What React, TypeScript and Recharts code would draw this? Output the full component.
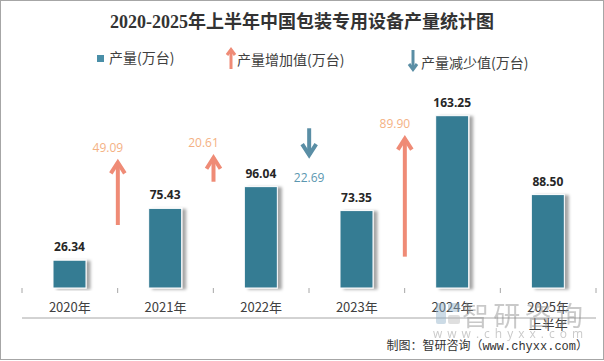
import React from 'react';
import { ComposedChart, Bar, XAxis, YAxis, LabelList } from 'recharts';

const years = ['2020年', '2021年', '2022年', '2023年', '2024年', '2025年上半年'];
const output = [26.34, 75.43, 96.04, 73.35, 163.25, 88.5];
const change = [null, 49.09, 20.61, -22.69, 89.9, null];
// where each arrow starts, read on the hidden second axis
const arrowStart = [null, 46.4, 78.3, 117.7, 23.1, null];

const W = 604;
const H = 361;
const X_AXIS_H = 40;
const margin = { top: 98, right: 8, bottom: 33, left: 22 };
const BAND = (W - margin.left - margin.right) / years.length;
const AXIS_Y = H - margin.bottom - X_AXIS_H;

const BAR = '#367b93';
const UP = '#ef8b76';
const UP_TEXT = '#f4b183';
const DOWN = '#5a8ea5';
const DOWN_TEXT = '#5b97b0';
const AXIS = '#a6a6a6';
const CJK = '"Noto Sans CJK SC", sans-serif';
const NUM = '"Open Sans", "Noto Sans CJK SC", sans-serif';

const data = years.map((year, i) => {
  const c = change[i];
  const s = arrowStart[i];
  return {
    year,
    output: output[i],
    change: c,
    arrow: c == null || s == null ? null : [Math.min(s, s + c), Math.max(s, s + c)],
  };
});

const BarShape = (p: any) => {
  const { x, y, width, height } = p;
  if (!height) return <g />;
  return (
    <rect x={x} y={y} width={width} height={height} fill={BAR} stroke="#fff" strokeWidth={1} filter="url(#barShadow)" />
  );
};

// arrows sit on the boundary between two years
const ArrowShape = (p: any) => {
  const { x, y, width, height, payload } = p;
  const c = payload?.change;
  if (c == null || !height) return <g />;
  const cx = x + width / 2 - BAND / 2;
  const top = y;
  const bottom = y + height;
  const hw = 7;
  const hh = 12;
  if (c > 0) {
    return (
      <g>
        <line x1={cx} x2={cx} y1={bottom} y2={top + 4} stroke={UP} strokeWidth={4} />
        <polyline
          points={`${cx - hw},${top + hh + 3} ${cx},${top + 4} ${cx + hw},${top + hh + 3}`}
          fill="none" stroke={UP} strokeWidth={4}
        />
        <text x={cx - 10} y={top - 11} textAnchor="middle" dominantBaseline="central" fill={UP_TEXT} fontSize={12} fontFamily={NUM}>
          {c.toFixed(2)}
        </text>
      </g>
    );
  }
  return (
    <g>
      <line x1={cx} x2={cx} y1={top} y2={bottom - 4} stroke={DOWN} strokeWidth={4} />
      <polyline
        points={`${cx - hw},${bottom - hh - 3} ${cx},${bottom - 4} ${cx + hw},${bottom - hh - 3}`}
        fill="none" stroke={DOWN} strokeWidth={4}
      />
      <text x={cx} y={bottom + 18} textAnchor="middle" dominantBaseline="central" fill={DOWN_TEXT} fontSize={12} fontFamily={NUM}>
        {Math.abs(c).toFixed(2)}
      </text>
    </g>
  );
};

const YearTick = (p: any) => {
  const { x, payload, index } = p;
  const y = AXIS_Y;
  const label: string = payload.value;
  const lines = label.length > 5 ? [label.slice(0, 5), label.slice(5)] : [label];
  return (
    <g>
      <line x1={x - BAND / 2} x2={x - BAND / 2} y1={y} y2={y + 5} stroke={AXIS} />
      {index === years.length - 1 && <line x1={x + BAND / 2} x2={x + BAND / 2} y1={y} y2={y + 5} stroke={AXIS} />}
      {lines.map((t, k) => (
        <text key={k} x={x} y={y + 18 + k * 17} textAnchor="middle" dominantBaseline="central" fill="#404040" fontSize={13} fontFamily={CJK}>
          {t}
        </text>
      ))}
    </g>
  );
};

function Overlay() {
  return (
    <svg width={W} height={H} style={{ position: 'absolute', left: 0, top: 0, pointerEvents: 'none' }}>
      <rect x={0.5} y={0.5} width={W - 1} height={H - 2} fill="none" stroke={AXIS} />
      <text x={302} y={22} textAnchor="middle" dominantBaseline="central" fontSize={18} fontWeight="bold" fill="#333" fontFamily='"Liberation Serif", "Noto Sans CJK SC", serif'>
        2020-2025年上半年中国包装专用设备产量统计图
      </text>

      {/* legend */}
      <rect x={97} y={55} width={7} height={7} fill="#4a8fa8" />
      <text x={109} y={57} dominantBaseline="central" fontSize={14} fill="#404040" fontFamily={CJK}>产量(万台)</text>
      <line x1={231} x2={231} y1={69} y2={51} stroke={UP} strokeWidth={3} />
      <polyline points="227,55 231,49.5 235,55" fill="none" stroke={UP} strokeWidth={3} />
      <text x={237} y={59} dominantBaseline="central" fontSize={14} fill="#404040" fontFamily={CJK}>产量增加值(万台)</text>
      <line x1={413} x2={413} y1={50} y2={68} stroke={DOWN} strokeWidth={3} />
      <polyline points="409,64 413,69.5 417,64" fill="none" stroke={DOWN} strokeWidth={3} />
      <text x={421} y={62} dominantBaseline="central" fontSize={14} fill="#404040" fontFamily={CJK}>产量减少值(万台)</text>

      {/* watermark */}
      <g opacity={0.45}>
        <rect x={436} y={303} width={10} height={21} rx={2} fill="#8fb0c8" />
        <rect x={448} y={303} width={12} height={9} rx={2} fill="#8fb0c8" />
        <rect x={448} y={315} width={12} height={9} rx={2} fill="#b9b9b9" />
        <text x={462} y={314} dominantBaseline="central" fontSize={27} fill="#8a8a8a" fontFamily={CJK} textLength={121} lengthAdjust="spacing">智研咨询</text>
        <text x={433} y={333} dominantBaseline="central" fontSize={12} fill="#8a8a8a" fontFamily={NUM} textLength={150} lengthAdjust="spacing">www.chyxx.com</text>
      </g>

      <text x={588} y={347} textAnchor="end" dominantBaseline="central" fontSize={12} fill="#333" fontFamily='"Liberation Mono", "Noto Sans CJK SC", monospace'>
        制图：智研咨询（www.chyxx.com）
      </text>
    </svg>
  );
}

export default function App() {
  return (
    <div style={{ position: 'relative', width: W, height: H, background: '#fff' }}>
      <style>{'body{margin:0}'}</style>
      <ComposedChart width={W} height={H} data={data} margin={margin}>
        <defs>
          <filter id="barShadow" x="-20%" y="-10%" width="160%" height="120%">
            <feDropShadow dx={4} dy={1} stdDeviation={1.8} floodColor="#000" floodOpacity={0.35} />
          </filter>
        </defs>
        <XAxis
          xAxisId="main"
          dataKey="year"
          interval={0}
          height={X_AXIS_H}
          tickLine={false}
          tickSize={0}
          tickMargin={0}
          axisLine={{ stroke: AXIS }}
          tick={<YearTick />}
        />
        <XAxis xAxisId="arrow" dataKey="year" hide />
        <YAxis yAxisId="main" domain={[0, 180]} hide />
        <YAxis yAxisId="arrow" domain={[0, 140]} hide />
        <Bar xAxisId="main" yAxisId="main" dataKey="output" barSize={33} shape={<BarShape />} isAnimationActive={false}>
          <LabelList
            dataKey="output"
            position="top"
            offset={9}
            formatter={(v: any) => Number(v).toFixed(2)}
            fill="#262626"
            fontSize={12}
            fontWeight="bold"
            fontFamily={NUM}
          />
        </Bar>
        <Bar xAxisId="arrow" yAxisId="arrow" dataKey="arrow" barSize={14} shape={<ArrowShape />} isAnimationActive={false} />
      </ComposedChart>
      <Overlay />
    </div>
  );
}
